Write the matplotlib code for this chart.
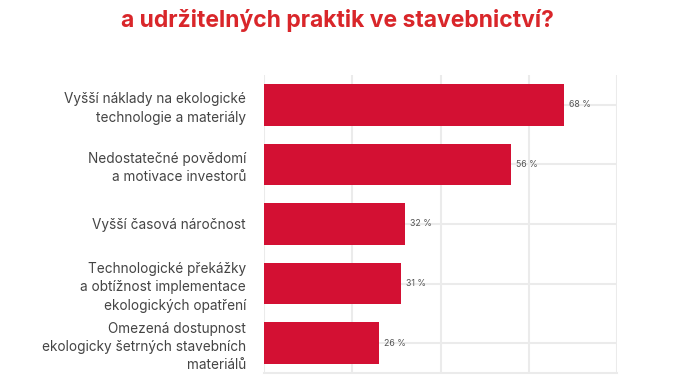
import matplotlib
matplotlib.use("Agg")
import matplotlib.pyplot as plt

plt.rcParams['font.family'] = ['Inter', 'DejaVu Sans']

title = u"a udržitelných praktik ve stavebnictví?"
categories = [
    u"Vyšší náklady na ekologické\ntechnologie a materiály",
    u"Nedostatečné povědomí\na motivace investorů",
    u"Vyšší časová náročnost",
    u"Technologické překážky\na obtížnost implementace\nekologických opatření",
    u"Omezená dostupnost\nekologicky šetrných stavebních\nmateriálů",
]
values = [68, 56, 32, 31, 26]
value_labels = ["68 %", "56 %", "32 %", "31 %", "26 %"]

bar_color = '#d31033'
grid_color = '#ebebeb'

fig = plt.figure(figsize=(6.74, 3.8), dpi=100)
ax = fig.add_axes([264 / 674, 1 - 373 / 380, (617 - 264) / 674, (373 - 75) / 380])

pos = list(range(len(values)))
ax.barh(pos, values, height=0.7, color=bar_color, zorder=3)

for p, v, lab in zip(pos, values, value_labels):
    ax.text(v + 1.2, p, lab, va='center', ha='left', fontsize=6.3, color='#555555')

ax.set_xlim(0, 80)
ax.set_ylim(4.5, -0.5)
ax.set_xticks([0, 20, 40, 60, 80])
ax.set_yticks(pos)
ax.set_yticklabels(categories, fontsize=9.8, color='#444444', linespacing=1.4,
                   ha='right')
ax.tick_params(axis='y', length=0, pad=13)
ax.tick_params(axis='x', length=0, labelbottom=False)
ax.grid(True, color=grid_color, linewidth=1.5, zorder=0)
for s in ax.spines.values():
    s.set_visible(False)
ax.spines['bottom'].set_visible(True)
ax.spines['bottom'].set_color(grid_color)
ax.spines['bottom'].set_linewidth(1.5)

fig.text(0.5, 1 - 27 / 380, title, ha='center', va='baseline', fontsize=16.5,
         fontweight='bold', color='#d9262a')

fig.savefig("out.png", dpi=100)
